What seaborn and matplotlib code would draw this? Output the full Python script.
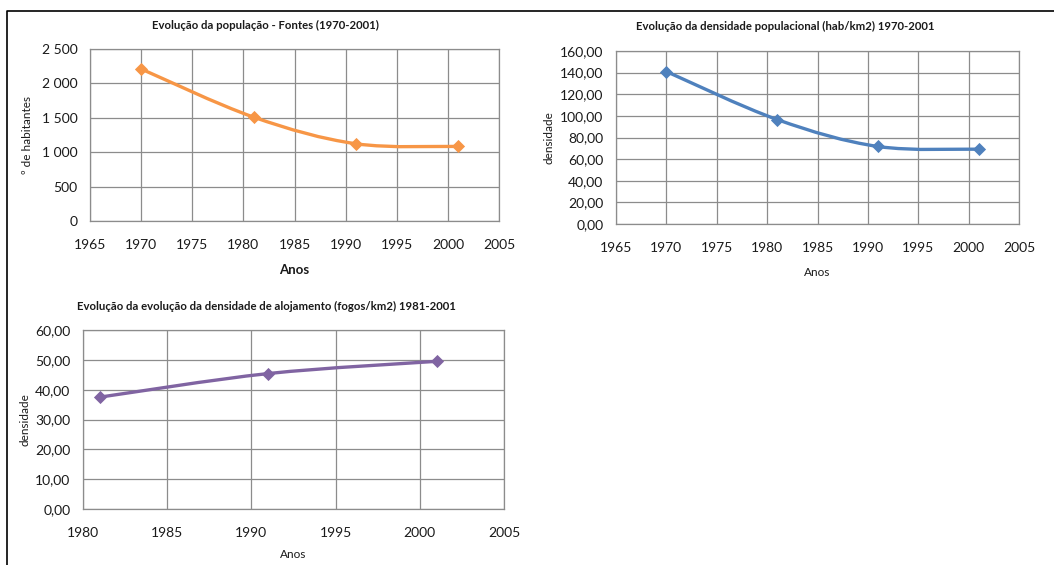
import matplotlib
matplotlib.use("Agg")
import matplotlib.pyplot as plt
import numpy as np
import pandas as pd
import seaborn as sns
from matplotlib.path import Path
from matplotlib.patches import PathPatch
from matplotlib.ticker import FuncFormatter

# Data
anos_pop = [1970, 1981, 1991, 2001]
habitantes = [2210, 1510, 1123, 1084]

anos_dens = [1970, 1981, 1991, 2001]
densidade_pop = [141.0, 96.6, 71.7, 69.2]

anos_aloj = [1981, 1991, 2001]
densidade_aloj = [37.5, 45.4, 49.5]

ORANGE = "#F79646"
BLUE = "#4F81BD"
PURPLE = "#8064A2"
GRID = "#8c8c8c"

W, H = 1054, 565

sns.set_theme(style="white")
plt.rcParams["font.family"] = ["Lato", "DejaVu Sans"]


def smooth_path(xs, ys):
    """Excel-style smoothed line: cubic Bezier through the points."""
    pts = np.column_stack([xs, ys]).astype(float)
    n = len(pts)
    verts = [pts[0]]
    codes = [Path.MOVETO]
    for i in range(n - 1):
        p0 = pts[i - 1] if i > 0 else pts[i]
        p1 = pts[i]
        p2 = pts[i + 1]
        p3 = pts[i + 2] if i + 2 < n else pts[i + 1]
        c1 = p1 + (p2 - p0) / 6.0
        c2 = p2 - (p3 - p1) / 6.0
        verts += [c1, c2, p2]
        codes += [Path.CURVE4] * 3
    return Path(verts, codes)


def box(x0, y0, x1, y1):
    # pixel box (top-left origin) -> figure fraction rect
    return [x0 / W, 1 - y1 / H, (x1 - x0) / W, (y1 - y0) / H]


def draw_panel(ax, xs, ys, color, xlim, xstep, ylim, ystep, fmt,
               ylabel, ylabel_x, xlabel_y, xlabel_bold):
    df = pd.DataFrame({"ano": xs, "valor": ys})
    ax.add_patch(PathPatch(smooth_path(xs, ys), facecolor="none", edgecolor=color,
                           lw=2.4, capstyle="round", joinstyle="round", zorder=3))
    sns.scatterplot(data=df, x="ano", y="valor", ax=ax, marker="D", s=45,
                    color=color, edgecolor=color, linewidth=0, zorder=4)
    ax.set_xlim(*xlim)
    ax.set_ylim(*ylim)
    ax.set_xticks(np.arange(xlim[0], xlim[1] + 1, xstep))
    ax.set_yticks(np.arange(ylim[0], ylim[1] + ystep / 2, ystep))
    ax.yaxis.set_major_formatter(FuncFormatter(fmt))
    ax.grid(True, color=GRID, lw=0.9)
    ax.set_axisbelow(True)
    for s in ax.spines.values():
        s.set_color(GRID)
        s.set_linewidth(0.9)
    ax.tick_params(axis="both", length=0, labelsize=10, colors="#1a1a1a")
    ax.tick_params(axis="x", pad=13)
    ax.tick_params(axis="y", pad=9)
    ax.set_ylabel(ylabel, fontsize=8.5, color="#1a1a1a")
    ax.set_xlabel("Anos", fontsize=9.5 if xlabel_bold else 8.5,
                  fontweight="bold" if xlabel_bold else "normal", color="#1a1a1a")
    # label positions in figure pixels
    bb = ax.get_position()
    ax.yaxis.set_label_coords((ylabel_x / W - bb.x0) / bb.width, 0.5)
    ax.xaxis.set_label_coords(0.5, ((1 - xlabel_y / H) - bb.y0) / bb.height)
    ax.xaxis.label.set_va("center")
    ax.yaxis.label.set_va("center")


def fmt_thousands(v, pos):
    return f"{int(v):,}".replace(",", " ")


def fmt_decimal(v, pos):
    return f"{v:.2f}".replace(".", ",")


fig = plt.figure(figsize=(W / 100, H / 100), dpi=100)
fig.patch.set_facecolor("white")

ax1 = fig.add_axes(box(90, 49, 499, 221))
draw_panel(ax1, anos_pop, habitantes, ORANGE, (1965, 2005), 5, (0, 2500), 500,
           fmt_thousands, "º de habitantes", 28, 270, True)

ax2 = fig.add_axes(box(616, 51, 1019, 224))
draw_panel(ax2, anos_dens, densidade_pop, BLUE, (1965, 2005), 5, (0, 160), 20,
           fmt_decimal, "densidade", 549, 273, False)

ax3 = fig.add_axes(box(83, 330, 504, 509))
draw_panel(ax3, anos_aloj, densidade_aloj, PURPLE, (1980, 2005), 5, (0, 60), 10,
           fmt_decimal, "densidade", 25, 555, False)

fig.text(265 / W, 1 - 25 / H, "Evolução da população - Fontes (1970-2001)",
         ha="center", va="center", fontsize=8.2, fontweight="bold", color="#1a1a1a")
fig.text(785 / W, 1 - 26 / H, "Evolução da densidade populacional (hab/km2) 1970-2001",
         ha="center", va="center", fontsize=8.2, fontweight="bold", color="#1a1a1a")
fig.text(266 / W, 1 - 306 / H,
         "Evolução da evolução da densidade de alojamento (fogos/km2) 1981-2001",
         ha="center", va="center", fontsize=8.2, fontweight="bold", color="#1a1a1a")

# page frame (top and left border)
fig.add_artist(plt.Line2D([7 / W, 7 / W, 1.0], [0.0, 1 - 11 / H, 1 - 11 / H],
                          transform=fig.transFigure, color="black", lw=1.2))

fig.savefig("out.png", dpi=100)
